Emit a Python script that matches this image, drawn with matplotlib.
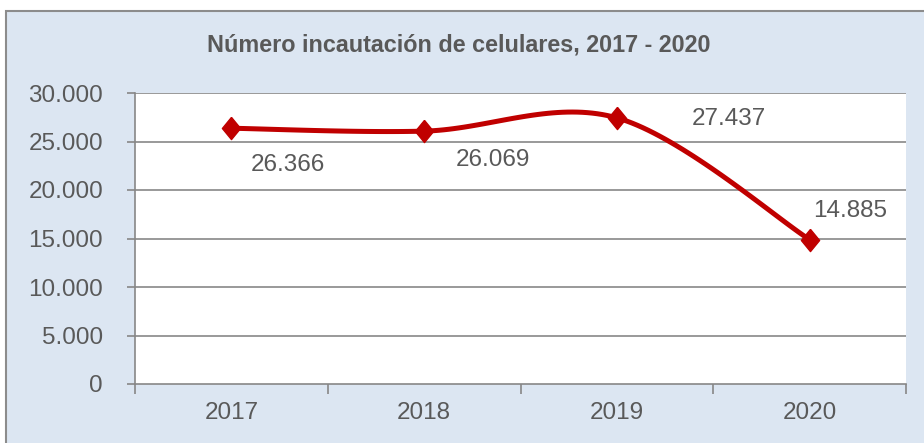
import numpy as np
import matplotlib
matplotlib.use("Agg")
import matplotlib.pyplot as plt
from matplotlib.patches import Rectangle

years = ["2017", "2018", "2019", "2020"]
values = [26366, 26069, 27437, 14885]
labels = ["26.366", "26.069", "27.437", "14.885"]
yticks = [0, 5000, 10000, 15000, 20000, 25000, 30000]
yticklabels = ["0", "5.000", "10.000", "15.000", "20.000", "25.000", "30.000"]
title = "Número incautación de celulares, 2017 - 2020"

W, H = 924, 443
fig = plt.figure(figsize=(W / 100, H / 100), dpi=100)
fig.patch.set_facecolor("white")
bg = Rectangle((6 / W, -0.01), (W - 6) / W + 0.02, (H - 11) / H + 0.01,
               transform=fig.transFigure, facecolor="#DCE6F2",
               edgecolor="#8C8C8C", linewidth=1.5, zorder=-10)
fig.patches.append(bg)

ax = fig.add_axes([135 / W, 1 - 384 / H, (906 - 135) / W, (384 - 93) / H], zorder=2)
ax.set_facecolor("white")
x = np.arange(len(values))
ax.set_xlim(-0.5, len(values) - 0.5)
ax.set_ylim(0, 30000)

# Excel-like smoothed line (Catmull-Rom Bezier)
def smooth(xs, ys, n=40):
    px = np.concatenate([[xs[0]], xs, [xs[-1]]])
    py = np.concatenate([[ys[0]], ys, [ys[-1]]])
    ox, oy = [], []
    for i in range(1, len(px) - 2):
        p0, p1, p2, p3 = [np.array([px[j], py[j]]) for j in range(i - 1, i + 3)]
        t = np.linspace(0, 1, n)[:, None]
        c1 = p1 + (p2 - p0) / 6
        c2 = p2 - (p3 - p1) / 6
        pts = ((1 - t) ** 3) * p1 + 3 * ((1 - t) ** 2) * t * c1 + 3 * (1 - t) * t ** 2 * c2 + t ** 3 * p2
        ox.extend(pts[:, 0]); oy.extend(pts[:, 1])
    return np.array(ox), np.array(oy)

sx, sy = smooth(x.astype(float), np.array(values, dtype=float))
for yv in yticks[1:]:
    ax.axhline(yv, color="#878787", linewidth=1.2, zorder=1)
ax.plot(sx, sy, color="#C00000", linewidth=3.6, zorder=3, solid_capstyle="round")
diamond = [(0, 1), (0.82, 0), (0, -1), (-0.82, 0), (0, 1)]
ax.plot(x, values, linestyle="none", marker=diamond, markersize=16, color="#C00000", zorder=4)

offsets = [(0.294, -3789), (0.357, -2976), (0.582, -117), (0.209, 2950)]
for xi, v, lab, (dx, dy) in zip(x, values, labels, offsets):
    ax.text(xi + dx, v + dy, lab, ha="center", va="center", fontsize=17.5, color="#595959",
            family="Liberation Sans")

ax.set_yticks(yticks)
ax.set_yticklabels(yticklabels, fontsize=17.5, color="#595959", family="Liberation Sans")
ax.set_xticks(x)
ax.set_xticklabels(years, fontsize=17.5, color="#595959", family="Liberation Sans")
ax.set_xticks(np.arange(-0.5, len(values)), minor=True)
ax.tick_params(axis="x", which="major", length=0, pad=13)
ax.tick_params(axis="x", which="minor", length=7, color="#878787", width=1.2)
ax.tick_params(axis="y", length=6, color="#878787", width=1.2, pad=17, direction="out")
for s in ["top", "right"]:
    ax.spines[s].set_visible(False)
for s in ["left", "bottom"]:
    ax.spines[s].set_color("#878787")
    ax.spines[s].set_linewidth(1.2)

fig.text(459 / W, 1 - 45 / H, title, ha="center", va="center", fontsize=16.8,
         fontweight="bold", color="#595959", family="Liberation Sans")

fig.savefig("out.png", dpi=100, facecolor=fig.get_facecolor())
